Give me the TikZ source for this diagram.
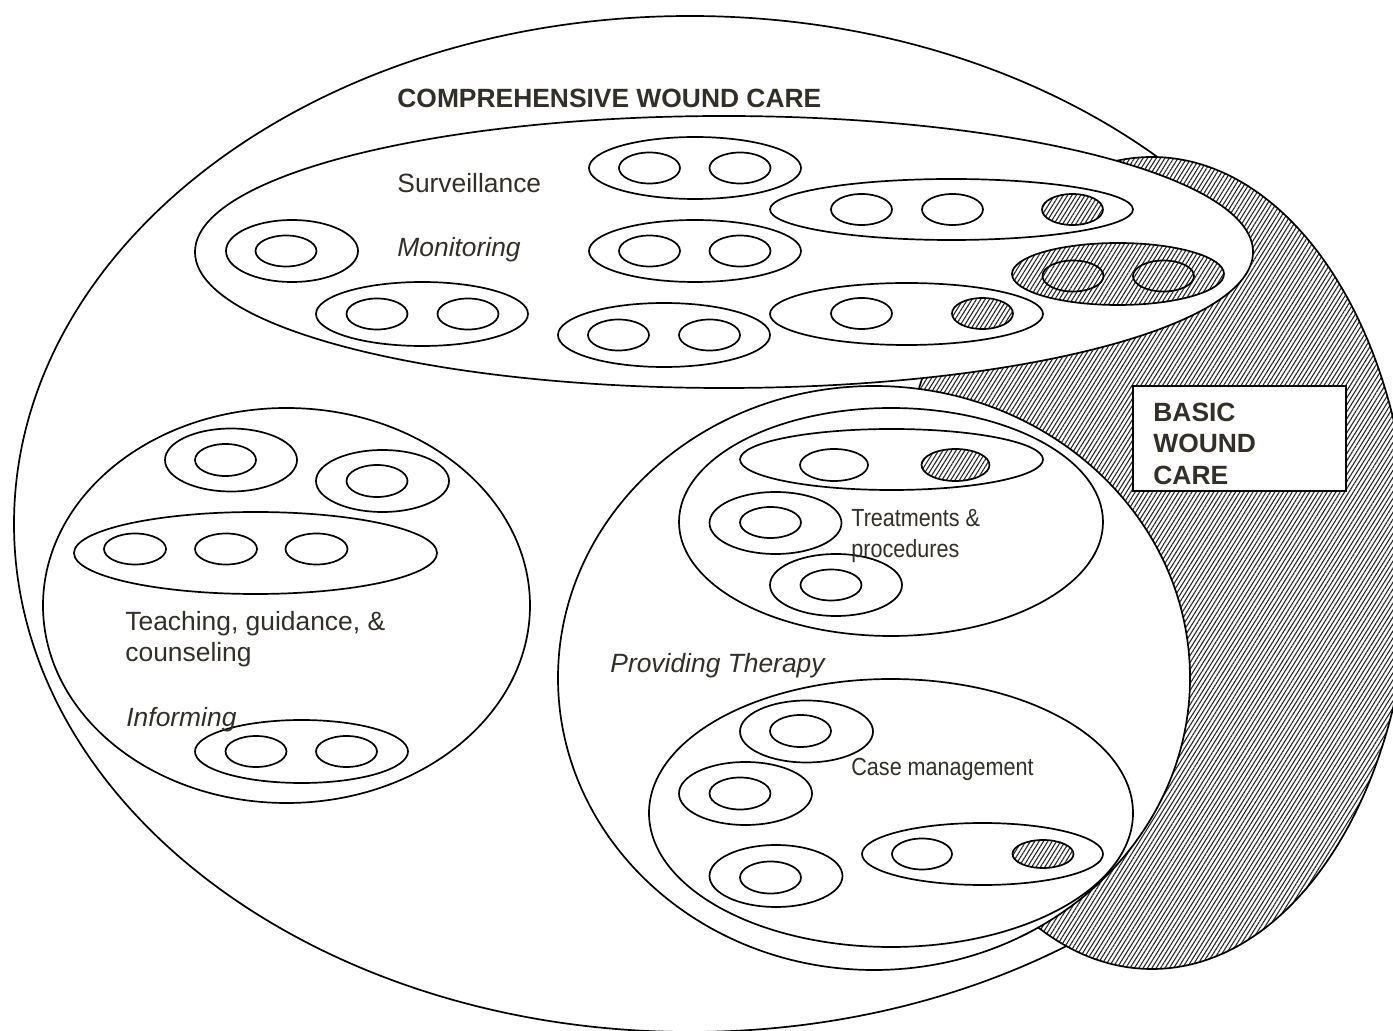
\documentclass[tikz,border=0pt]{standalone}
\usepackage{fontspec}
\setmainfont{Liberation Sans}
\newfontfamily\narrowsans{Liberation Sans}[FakeStretch=0.87]
\usetikzlibrary{patterns.meta}
\definecolor{inkgray}{RGB}{50,47,40}
\definecolor{hatchgray}{RGB}{40,40,40}

\tikzset{
  ring/.style={draw=black, line width=0.85pt},
  area/.style={ring, fill=white},
  hatched/.style={ring, preaction={fill=white},
    pattern={Lines[angle=58,distance=1.85pt,line width=0.55pt]},
    pattern color=hatchgray},
  lbl/.style={anchor=base west, inner sep=0pt, text=inkgray,
    font=\fontsize{13.2}{15.5}\selectfont},
  lblit/.style={lbl, font=\fontsize{13.2}{15.5}\selectfont\itshape},
  lblbf/.style={lbl, font=\fontsize{13.2}{15.5}\selectfont\bfseries},
  lblnarrow/.style={lbl, font=\fontsize{12.4}{15.5}\selectfont\narrowsans},
}

% one ellipse: [style] (centre x, centre y) (x radius, y radius)
\newcommand\eshape[5][ring]{\path[#1] (#2,#3) ellipse [x radius=#4, y radius=#5];}

\begin{document}
\begin{tikzpicture}[x=0.5pt, y=-0.5pt]
\useasboundingbox (0,0) rectangle (1393,1031);

% comprehensive wound care
\eshape[area]{690}{524}{676}{508}
% basic wound care region
\eshape[hatched]{1152}{563}{258}{406}
% main groups
\eshape[area]{724}{252}{529}{136}
\eshape[area]{874}{678}{316}{292}
\eshape[area]{286.5}{605.5}{243.5}{197.5}

% ---- monitoring group ----
\eshape{292}{251}{66}{31}
\eshape{286}{251}{30.5}{15.5}

\eshape{422}{314}{106}{32}
\eshape{377}{314}{30.5}{15.5}
\eshape{468}{314}{30.5}{15.5}

\eshape{695}{168}{106}{31}
\eshape{649.5}{168}{30.5}{15.5}
\eshape{740}{168}{30.5}{15.5}

\eshape{695}{251}{106}{31}
\eshape{649.5}{251}{30.5}{15.5}
\eshape{740}{251}{30.5}{15.5}

\eshape{664}{335}{106}{32}
\eshape{618.5}{335}{30.5}{15.5}
\eshape{709.5}{335}{30.5}{15.5}

\eshape{951.5}{209.5}{181.5}{30.5}
\eshape{861.5}{209.5}{30.5}{15.5}
\eshape{952.5}{209.5}{30.5}{15.5}
\eshape[hatched]{1072.5}{209.5}{30.5}{15.5}

\eshape{906.5}{314}{136.5}{31}
\eshape{861.5}{313.5}{30.5}{15.5}
\eshape[hatched]{982.5}{313.5}{30.5}{15.5}

\eshape[hatched]{1118}{274}{106}{31}
\eshape{1073}{276}{30.5}{15.5}
\eshape{1163.5}{276}{30.5}{15.5}

% ---- informing group ----
\eshape{231}{460}{66}{31.5}
\eshape{225.5}{460}{30.5}{16}

\eshape{382.5}{481}{66.5}{31}
\eshape{377}{481}{30.5}{16}

\eshape{255.5}{553}{181.5}{41}
\eshape{135}{549}{31}{15.5}
\eshape{226}{549}{31}{15.5}
\eshape{316.5}{549}{31}{15.5}

\eshape{301.5}{751.5}{106.5}{31.5}
\eshape{256}{751.5}{30.5}{15.5}
\eshape{346.5}{751.5}{30.5}{15.5}

% ---- therapy group ----
\eshape{891}{522}{212}{114}
\eshape{891.5}{459.5}{151.5}{30.5}
\eshape{834}{465}{34}{16}
\eshape[hatched]{955.5}{465}{34}{16}
\eshape{775.5}{523}{66}{31}
\eshape{770.5}{522.5}{30.5}{15.5}
\eshape{836}{585}{66}{31}
\eshape{831}{585}{30.5}{15.5}

\eshape{891}{813}{242}{134}
\eshape{806.5}{731.5}{66.5}{31}
\eshape{800.5}{731}{30.5}{16}
\eshape{745.5}{793.5}{66.5}{31.5}
\eshape{740}{793.5}{30.5}{16}
\eshape{776}{876}{66.5}{31}
\eshape{770.5}{877.5}{30.5}{16}
\eshape{982.5}{854}{120.5}{31}
\eshape{922}{854}{30}{15.5}
\eshape[hatched]{1043}{854}{30.5}{14}

% ---- basic wound care label ----
\path[area] (1133,386) rectangle (1346,491);
\node[lblbf] (basic1) at (1153,422) {BASIC};
\node[lblbf] (basic2) at (1153,453) {WOUND};
\node[lblbf] (basic3) at (1153,485) {CARE};

% ---- labels ----
\node[lblbf] (comp) at (397,108) {COMPREHENSIVE WOUND CARE};
\node[lbl] (surv) at (397,193) {Surveillance};
\node[lblit] (moni) at (397,257) {Monitoring};
\node[lbl] (teach1) at (125,631) {Teaching, guidance, \&};
\node[lbl] (teach2) at (125,662) {counseling};
\node[lblit] (info) at (126,727) {Informing};
\node[lblit] (ther) at (610,673) {Providing Therapy};
\node[lblnarrow] (treat1) at (851,527) {Treatments \&};
\node[lblnarrow] (treat2) at (851,558) {procedures};
\node[lblnarrow] (casem) at (851,776) {Case management};
\end{tikzpicture}
\end{document}
